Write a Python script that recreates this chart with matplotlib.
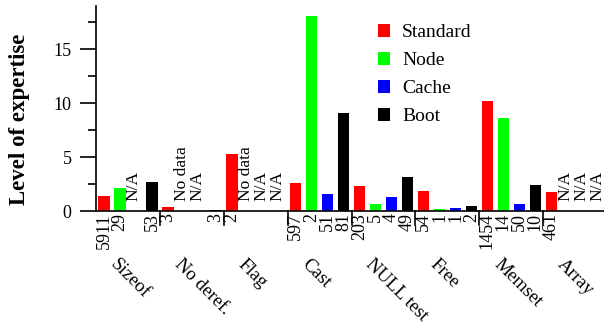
import matplotlib
matplotlib.use("Agg")
import matplotlib.pyplot as plt
import numpy as np

# Data
categories = ["Sizeof", "No deref.", "Flag", "Cast", "NULL test", "Free", "Memset", "Array"]
series_names = ["Standard", "Node", "Cache", "Boot"]
series_colors = ["#FF0000", "#00FF00", "#0000FF", "#000000"]

standard = [1.4, 0.4, 5.25, 2.6, 2.35, 1.9, 10.2, 1.8]
node = [2.1, None, None, 18.1, 0.65, 0.18, 8.65, None]
cache = [None, None, None, 1.6, 1.3, 0.28, 0.65, None]
boot = [2.7, 0.12, None, 9.05, 3.15, 0.43, 2.4, None]

standard_n = ["5911", "3", "2", "597", "203", "54", "1454", "461"]
node_n = ["29", None, None, "2", "5", "1", "14", None]
cache_n = [None, None, None, "51", "4", "1", "50", None]
boot_n = ["53", "3", None, "81", "49", "2", "10", None]

# Notes shown instead of a bar
standard_note = [None] * 8
node_note = [None, "No data", "No data", None, None, None, None, "N/A"]
cache_note = ["N/A", "N/A", "N/A", None, None, None, None, "N/A"]
boot_note = [None, None, "N/A", None, None, None, None, "N/A"]

values = [standard, node, cache, boot]
counts = [standard_n, node_n, cache_n, boot_n]
notes = [standard_note, node_note, cache_note, boot_note]

plt.rcParams["font.family"] = "serif"
plt.rcParams["font.serif"] = ["Liberation Serif", "DejaVu Serif"]

fig = plt.figure(figsize=(6.04, 3.26), dpi=100)
ax = fig.add_axes([96 / 604, 115 / 326, 508 / 604, 205 / 326])

n_series = len(series_names)
BAR_W = 0.72

for s, (vals, cnts, nts) in enumerate(zip(values, counts, notes)):
    for g in range(len(categories)):
        x = g * n_series + s
        v = vals[g]
        if v is not None:
            ax.bar(x, v, width=BAR_W, color=series_colors[s], zorder=2,
                   label=series_names[s] if g == 3 else None)
        if cnts[g] is not None:
            ax.annotate(cnts[g], xy=(x, 0), xytext=(0, -2), textcoords="offset pixels",
                        rotation=90, ha="center", va="top", fontsize=13)
        if nts[g] is not None:
            ax.annotate(nts[g], xy=(x, 0), xytext=(-2, 10), textcoords="offset pixels",
                        rotation=90, ha="center", va="bottom", fontsize=12.5)

# group separators below the axis
for g in range(1, len(categories)):
    xb = g * n_series - 0.5
    ax.plot([xb, xb], [0, -1.3], color="black", lw=1.2, clip_on=False)

# category names
for g, name in enumerate(categories):
    xc = g * n_series + (n_series - 1) / 2
    ax.annotate(name, xy=(xc, 0), xytext=(-9, -45), textcoords="offset pixels",
                rotation=-45, rotation_mode="anchor", ha="left", va="top", fontsize=13.5)

ax.set_xlim(-0.5, 31.3)
ax.set_ylim(0, 19)
ax.set_xticks([])
ax.set_yticks([0, 5, 10, 15])
ax.set_yticks([2.5, 7.5, 12.5, 17.5], minor=True)
ax.tick_params(axis="y", which="major", length=11.5, width=1.2, labelsize=13, pad=6)
ax.tick_params(axis="y", which="minor", length=5.8, width=1.2)
for side in ["top", "right"]:
    ax.spines[side].set_visible(False)
for side in ["left", "bottom"]:
    ax.spines[side].set_linewidth(1.2)
ax.set_ylabel("Level of expertise", fontsize=16.5, fontweight="bold")
ax.yaxis.set_label_coords(-0.13, 0.445)

handles, labels = ax.get_legend_handles_labels()
ax.legend(handles, labels, loc="upper left", bbox_to_anchor=(368 / 604, 1 - 14 / 326),
          bbox_transform=fig.transFigure, frameon=False, fontsize=14,
          handlelength=0.65, handleheight=0.65, handletextpad=0.6, labelspacing=0.55,
          borderpad=0)

fig.savefig("out.png", dpi=100)
